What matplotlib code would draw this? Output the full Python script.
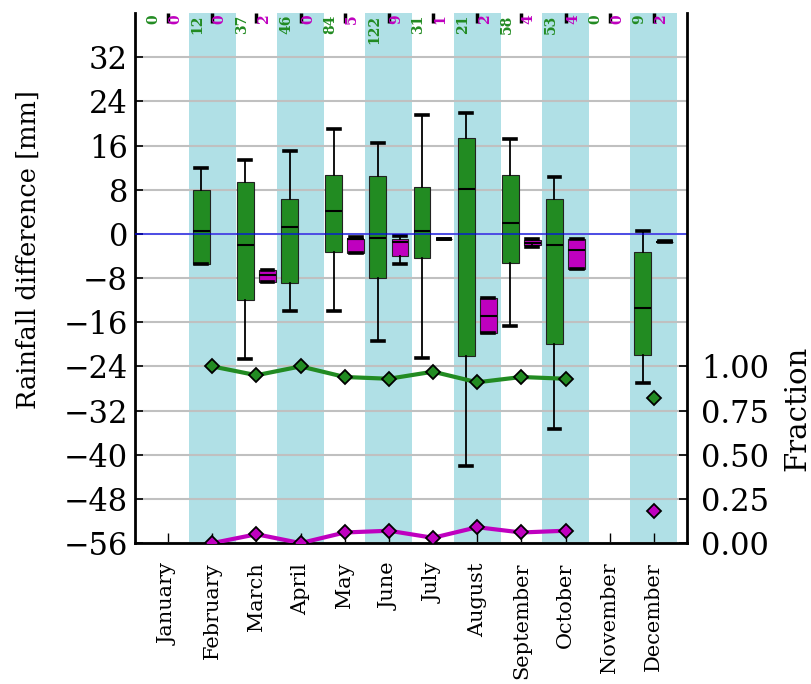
import numpy as np
import matplotlib
matplotlib.use('Agg')
from matplotlib import pyplot as plt

plt.rcParams['font.family'] = ['DejaVu Serif']

months = ['January', 'February', 'March', 'April', 'May', 'June', 'July',
          'August', 'September', 'October', 'November', 'December']
nan = np.nan

# counts shown on top
green_n = [0, 12, 37, 46, 84, 122, 31, 21, 58, 53, 0, 9]
mag_n = [0, 0, 2, 0, 5, 9, 1, 2, 4, 4, 0, 2]

# box stats (mm)
green_whislo = [nan, -5.5, -22.7, -14.0, -13.9, -19.4, -22.5, -42.0, -16.7, -35.4, nan, -27.0]
green_q1 = [nan, -5.5, -11.9, -8.9, -3.3, -8.0, -4.3, -22.1, -5.3, -20.0, nan, -22.0]
green_med = [nan, 0.5, -2.0, 1.3, 4.1, -0.7, 0.5, 8.2, 1.9, -2.0, nan, -13.4]
green_q3 = [nan, 8.0, 9.4, 6.4, 10.7, 10.4, 8.4, 17.3, 10.7, 6.4, nan, -3.2]
green_whishi = [nan, 12.0, 13.4, 15.0, 19.0, 16.5, 21.5, 21.9, 17.2, 10.3, nan, 0.6]

mag_whislo = [nan, nan, -8.7, nan, -3.5, -5.4, -1.0, -18.0, -2.3, -6.4, nan, -1.55]
mag_q1 = [nan, nan, -8.7, nan, -3.5, -4.0, -1.0, -18.0, -2.1, -6.4, nan, -1.5]
mag_med = [nan, nan, -7.5, nan, -0.9, -1.45, -1.0, -14.9, -1.6, -3.0, nan, -1.45]
mag_q3 = [nan, nan, -6.5, nan, -0.9, -0.9, -1.0, -11.7, -1.2, -1.0, nan, -1.4]
mag_whishi = [nan, nan, -6.5, nan, -0.6, -0.3, -1.0, -11.6, -0.9, -0.9, nan, -1.35]

# fractions (right axis)
green_frac = [nan, 1.00, 0.95, 1.00, 0.94, 0.93, 0.97, 0.91, 0.94, 0.93, nan, 0.82]
mag_frac = [nan, 0.00, 0.05, 0.00, 0.06, 0.07, 0.03, 0.09, 0.06, 0.07, nan, 0.18]

green = 'forestgreen'
mag = 'm'

fig = plt.figure(figsize=(8.11, 6.84), dpi=100)
ax = fig.add_axes([0.1665, 0.206, 0.6805, 0.775])

x = np.arange(1, 13)

for i in x:
    if i % 2 == 0:
        ax.axvspan(i - 0.53, i + 0.53, color='powderblue', lw=0, zorder=0)


def make_stats(lo, q1, med, q3, hi):
    stats, pos = [], []
    for k in range(12):
        if np.isnan(med[k]):
            continue
        stats.append(dict(whislo=lo[k], q1=q1[k], med=med[k], q3=q3[k], whishi=hi[k]))
        pos.append(k + 1)
    return stats, np.array(pos)


for vals, col, off in [((green_whislo, green_q1, green_med, green_q3, green_whishi), green, -0.25),
                       ((mag_whislo, mag_q1, mag_med, mag_q3, mag_whishi), mag, 0.25)]:
    st, pos = make_stats(*vals)
    ax.bxp(st, positions=pos + off, widths=0.38, patch_artist=True, showfliers=False,
           manage_ticks=False, capwidths=0.27,
           boxprops=dict(facecolor=col, edgecolor='#222222', lw=0.8),
           medianprops=dict(color='k', lw=1.5),
           whiskerprops=dict(color='k', lw=1.3, linestyle='-'),
           capprops=dict(color='k', lw=2.6))

ax.axhline(0, color='b', lw=1.2, alpha=0.7, zorder=5)

ax.set_xlim(0.25, 12.75)
ax.set_ylim(-56, 40)
ax.set_yticks(range(-56, 40, 8))
ax.set_xticks(x)
ax.set_xticklabels(months, rotation=90, fontsize=15)
ax.yaxis.grid(True, color='#c0c0c0', lw=1.5)
ax.set_axisbelow(True)
ax.tick_params(axis='y', direction='in', length=6, width=1.2, labelsize=22, pad=5)
ax.tick_params(axis='x', direction='in', top=True, bottom=True, length=7, width=1, pad=14)
for t in ax.xaxis.get_major_ticks():
    t.tick2line.set_markeredgewidth(2.5)
ax.set_ylabel('Rainfall difference [mm]', fontsize=18.5)
ax.yaxis.set_label_coords(-0.171, 0.553)

for k in range(12):
    ax.text(k + 1 - 0.33, 39.7, str(green_n[k]), rotation=90, ha='center', va='top',
            color=green, fontsize=10, fontweight='bold')
    ax.text(k + 1 + 0.17, 39.7, str(mag_n[k]), rotation=90, ha='center', va='top',
            color=mag, fontsize=10, fontweight='bold')

for s in ['left', 'bottom']:
    ax.spines[s].set_linewidth(2)
ax.spines['top'].set_visible(False)
ax.spines['right'].set_visible(False)

ax2 = ax.twinx()
ax2.plot(x, green_frac, '-', color=green, lw=3, marker='D', ms=7, mfc=green, mec='k', mew=1.3)
ax2.plot(x, mag_frac, '-', color=mag, lw=3, marker='D', ms=7, mfc=mag, mec='k', mew=1.3)
ax2.set_ylim(0, 3)
ax2.set_yticks([0, 0.25, 0.5, 0.75, 1.0])
ax2.set_yticklabels(['0.00', '0.25', '0.50', '0.75', '1.00'])
ax2.tick_params(axis='y', direction='in', length=6, width=1.2, labelsize=22, pad=10)
ax2.set_ylabel('Fraction', fontsize=21)
ax2.yaxis.set_label_coords(1.175, 0.255)
ax2.spines['right'].set_linewidth(2)
ax2.spines['top'].set_visible(False)
ax2.spines['left'].set_visible(False)
ax2.spines['bottom'].set_visible(False)

plt.savefig('out.png', dpi=100)
